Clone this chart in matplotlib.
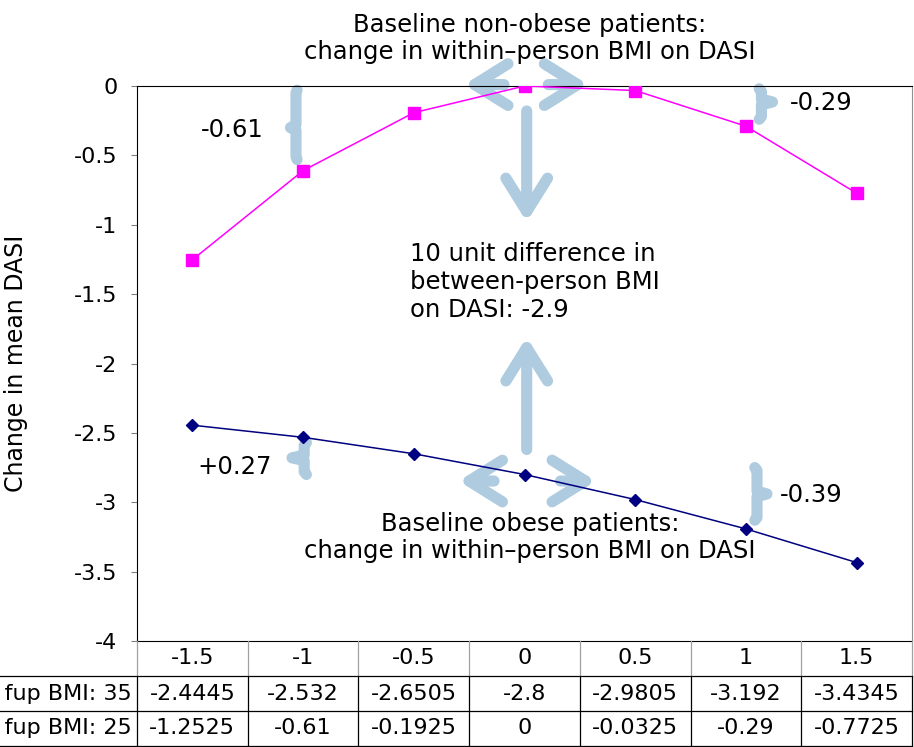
import numpy as np
import matplotlib.pyplot as plt
from matplotlib.patches import FancyArrowPatch

"""
data
"""
bmi_change = [-1.5, -1, -0.5, 0, 0.5, 1, 1.5]
xlabels = ['-1.5', '-1', '-0.5', '0', '0.5', '1', '1.5']
dasi_bmi35 = [-2.4445, -2.532, -2.6505, -2.8, -2.9805, -3.192, -3.4345]
dasi_bmi25 = [-1.2525, -0.61, -0.1925, 0, -0.0325, -0.29, -0.7725]
row_labels = ['Mean fup BMI: 35', 'Mean fup BMI: 25']
yticks = [0, -0.5, -1, -1.5, -2, -2.5, -3, -3.5, -4]
ylabels = ['0', '-0.5', '-1', '-1.5', '-2', '-2.5', '-3', '-3.5', '-4']

pink = '#FF00FF'
navy = '#000080'
pale = '#AECBDF'

plt.rcParams['font.family'] = ['DejaVu Sans']

fig = plt.figure(figsize=(9.14, 7.47), dpi=100)
W, H = 914.0, 747.0
ax = fig.add_axes([137/W, (H-641)/H, 775/W, 555/H])
xi = np.arange(len(bmi_change))

ax.plot(xi, dasi_bmi35, color=navy, lw=1.1, marker='D', ms=6.5, zorder=4)
ax.plot(xi, dasi_bmi25, color=pink, lw=1.1, marker='s', ms=8.5, zorder=4)

ax.set_xlim(-0.5, 6.5)
ax.set_ylim(-4, 0)
ax.set_yticks(yticks)
ax.set_yticklabels(ylabels)
ax.set_xticks([])
ax.tick_params(axis='y', direction='out', length=4, color='#808080',
               labelsize=16, pad=10)
for s in ['top', 'left', 'bottom']:
    ax.spines[s].set_color('black')
ax.spines['right'].set_color('#909090')
ax.set_ylabel('Change in mean DASI', fontsize=17)
ax.yaxis.set_label_coords(-0.141, 0.5)

"""
annotations: arrows and braces
"""
def arrow(x0, y0, x1, y1):
    a = FancyArrowPatch((x0, y0), (x1, y1), transform=ax.transData,
                        arrowstyle='->,head_length=24,head_width=15',
                        mutation_scale=1, lw=8, color=pale,
                        capstyle='round', joinstyle='round',
                        zorder=1.5, clip_on=False)
    ax.add_patch(a)

arrow(2.84, 0.01, 2.43, 0.01)
arrow(3.19, 0.01, 3.60, 0.01)
arrow(3.02, -0.16, 3.02, -1.0)
arrow(3.02, -2.64, 3.02, -1.79)
arrow(2.75, -2.847, 2.38, -2.847)
arrow(3.30, -2.847, 3.67, -2.847)

def brace(x, y0, y1, ym, nub, end):
    s = 0.02
    px = [x+end, x, x, x+nub, x, x, x+end]
    py = [y0, y0-s, ym+s, ym, ym-s, y1+s, y1]
    ax.plot(px, py, color=pale, lw=8, solid_capstyle='round',
            solid_joinstyle='round', zorder=1.5, clip_on=False)

brace(0.936, -0.03, -0.53, -0.30, -0.05, 0.01)
brace(5.14, -0.02, -0.24, -0.115, 0.10, -0.02)
brace(1.01, -2.57, -2.80, -2.68, -0.11, 0.02)
brace(5.10, -2.75, -3.13, -2.94, 0.09, -0.02)

ax.text(3.05, 0.342, 'Baseline non-obese patients:\nchange in within\u2013person BMI on DASI',
        ha='center', va='center', fontsize=17.5, linespacing=1.15)
ax.text(1.966, -1.413, '10 unit difference in\nbetween-person BMI\non DASI: -2.9',
        ha='left', va='center', fontsize=17.5, linespacing=1.2)
ax.text(3.05, -3.254, 'Baseline obese patients:\nchange in within\u2013person BMI on DASI',
        ha='center', va='center', fontsize=17.5, linespacing=1.15)
ax.text(0.358, -0.317, '-0.61', ha='center', va='center', fontsize=17.5)
ax.text(5.678, -0.123, '-0.29', ha='center', va='center', fontsize=17.5)
ax.text(0.385, -2.746, '+0.27', ha='center', va='center', fontsize=17.5)
ax.text(5.588, -2.948, '-0.39', ha='center', va='center', fontsize=17.5)

"""
data table
"""
tax = fig.add_axes([137/W, 1/H, 775/W, 105/H])
tax.set_xlim(-0.5, 6.5)
tax.set_ylim(3, 0)
tax.axis('off')
left = -0.5 - 137/110.71
for r in [1, 2, 3]:
    tax.plot([left, 6.5], [r, r], color='black', lw=0.9, clip_on=False)
for k in range(8):
    tax.plot([k-0.5, k-0.5], [0, 1], color='#A0A0A0', lw=0.9, clip_on=False)
    tax.plot([k-0.5, k-0.5], [1, 3], color='black', lw=0.9, clip_on=False)
for i, lab in enumerate(xlabels):
    tax.text(i, 0.5, lab, ha='center', va='center', fontsize=16)
for i in range(len(xlabels)):
    tax.text(i, 1.5, '{:g}'.format(dasi_bmi35[i]), ha='center', va='center', fontsize=16)
    tax.text(i, 2.5, '{:g}'.format(dasi_bmi25[i]), ha='center', va='center', fontsize=16)
for j, lab in enumerate(row_labels):
    # the reference picture crops these row labels at its left edge
    tax.text(-0.55, 1.5+j, lab, ha='right', va='center', fontsize=16, clip_on=False)

plt.savefig('out.png', dpi=100)
plt.close()
